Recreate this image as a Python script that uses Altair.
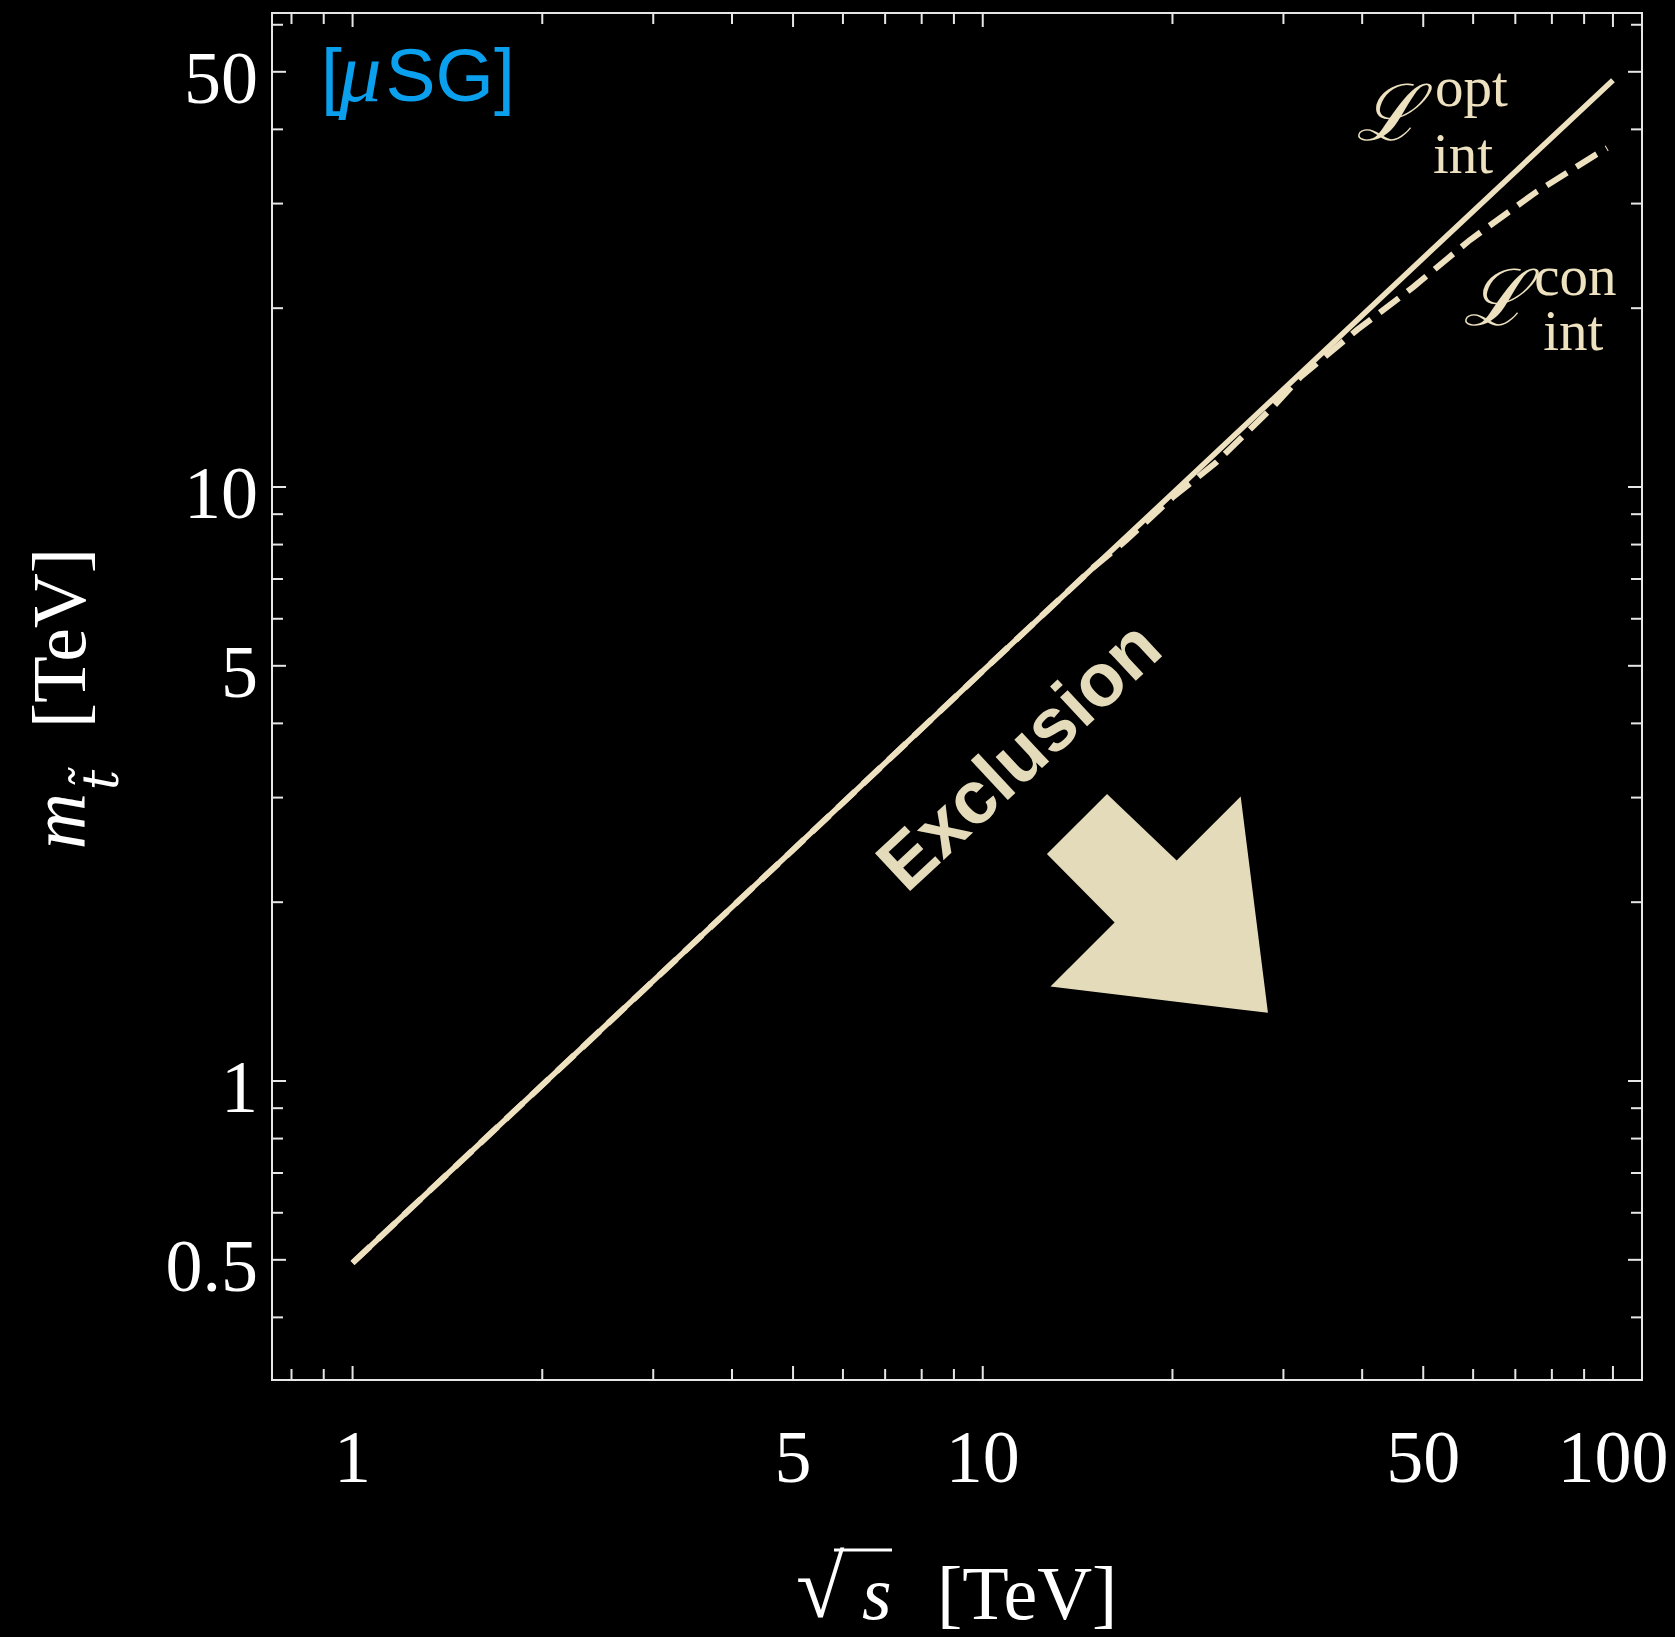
import altair as alt
import numpy as np
import pandas as pd

# ---------------- values ----------------
# L_int^opt (solid curve)
opt_x = [1, 2, 5, 10, 20, 50, 100]
opt_y = [0.494, 0.985, 2.45, 4.9, 9.75, 24.3, 48.4]

# L_int^con (dashed curve)
con_x = [1, 5, 10, 15, 16.9, 20, 23.4, 28.8, 31.9, 39.3, 48.2, 59.3, 75.3, 93.7, 97.9]
con_y = [0.494, 2.45, 4.9, 7.33, 8.14, 9.6, 10.97, 13.6, 15.3, 18.4, 21.7, 26.05, 31.3, 36.2, 37.2]

# axes
X_DOMAIN = [0.745, 111.2]
Y_DOMAIN = [0.3138, 62.8]
x_tick_labels = [1, 5, 10, 50, 100]
x_minor = [0.8, 0.9, 2, 3, 4, 6, 7, 8, 9, 20, 30, 40, 60, 70, 80, 90]
y_tick_labels = [0.5, 1, 5, 10, 50]
y_minor = [0.4, 0.6, 0.7, 0.8, 0.9, 2, 3, 4, 6, 7, 8, 9, 20, 30, 40, 60]

# "Exclusion" arrow outline (data coordinates): shaft quad and head triangle
arrow_shaft_x = [12.69, 15.75, 20.27, 16.22]
arrow_shaft_y = [2.411, 3.030, 2.346, 1.853]
arrow_head_x = [25.61, 28.26, 12.88]
arrow_head_y = [2.995, 1.307, 1.445]

# annotations (data coordinates)
excl_text = ["Exclusion"]
excl_x = [12.15]
excl_y = [3.29]

L_text = ["\u2112", "\u2112"]
L_x = [44.1, 65.2]
L_y = [38.4, 18.74]
sup_text = ["opt", "con"]
sup_x = [52.2, 75.0]
sup_y = [43.8, 21.05]
sub_text = ["int", "int"]
sub_x = [51.8, 77.5]
sub_y = [33.8, 17.0]

tag_parts = ["[", "\u03bc", "SG]"]
tag_x = [0.891, 0.950, 1.128]
tag_y = [44.66, 44.66, 44.66]

# ---------------- styling ----------------
W, H = 1370, 1367
FRAME = "#e6e6e6"
CREAM = "#ede1bf"
ARROW = "#e4dbba"
BLUE = "#0aa0ee"
SERIF = "Liberation Serif"
SANS = "Liberation Sans"

xscale = alt.Scale(type="log", domain=X_DOMAIN, nice=False)
yscale = alt.Scale(type="log", domain=Y_DOMAIN, nice=False)


def band(xs, ys):
    """Turn a convex polygon into top/bottom rows for an area mark (log space)."""
    lx = np.log10(xs)
    ly = np.log10(ys)
    n = len(xs)
    rows = []
    for xv in sorted(lx):
        hits = []
        for i in range(n):
            x0, y0 = lx[i], ly[i]
            x1, y1 = lx[(i + 1) % n], ly[(i + 1) % n]
            if min(x0, x1) - 1e-12 <= xv <= max(x0, x1) + 1e-12:
                if abs(x1 - x0) < 1e-12:
                    hits += [y0, y1]
                else:
                    t = (xv - x0) / (x1 - x0)
                    hits.append(y0 + t * (y1 - y0))
        rows.append({"x": 10 ** xv, "top": 10 ** max(hits), "bot": 10 ** min(hits)})
    return pd.DataFrame(rows)


def X(field):
    return alt.X(field, scale=xscale, axis=None)


def Y(field):
    return alt.Y(field, scale=yscale, axis=None)


layers = []

# dashed curve (under), solid curve (over)
layers.append(
    alt.Chart(pd.DataFrame({"x": con_x, "y": con_y}))
    .mark_line(color=CREAM, strokeWidth=6, strokeDash=[24, 11], clip=True)
    .encode(x=X("x:Q"), y=Y("y:Q"))
)
layers.append(
    alt.Chart(pd.DataFrame({"x": opt_x, "y": opt_y}))
    .mark_line(color=CREAM, strokeWidth=5.5, clip=True)
    .encode(x=X("x:Q"), y=Y("y:Q"))
)

# inward frame ticks on all four sides
for vals, ln in ((x_tick_labels, 14), (x_minor, 11)):
    d = pd.DataFrame({"v": vals})
    layers.append(alt.Chart(d).mark_rule(color=FRAME, strokeWidth=2).encode(
        x=X("v:Q"), y=alt.value(H), y2=alt.value(H - ln)))
    layers.append(alt.Chart(d).mark_rule(color=FRAME, strokeWidth=2).encode(
        x=X("v:Q"), y=alt.value(0), y2=alt.value(ln)))
for vals, ln in ((y_tick_labels, 14), (y_minor, 11)):
    d = pd.DataFrame({"v": vals})
    layers.append(alt.Chart(d).mark_rule(color=FRAME, strokeWidth=2).encode(
        y=Y("v:Q"), x=alt.value(0), x2=alt.value(ln)))
    layers.append(alt.Chart(d).mark_rule(color=FRAME, strokeWidth=2).encode(
        y=Y("v:Q"), x=alt.value(W), x2=alt.value(W - ln)))

# tick labels, placed through the scales
xl = pd.DataFrame({"v": x_tick_labels, "t": [f"{v:g}" for v in x_tick_labels]})
layers.append(alt.Chart(xl).mark_text(font=SERIF, fontSize=74, color="#ffffff",
                                      align="center", baseline="alphabetic")
              .encode(x=X("v:Q"), y=alt.value(H + 102), text="t:N"))
yl = pd.DataFrame({"v": y_tick_labels, "t": [f"{v:g}" for v in y_tick_labels]})
layers.append(alt.Chart(yl).mark_text(font=SERIF, fontSize=74, color="#ffffff",
                                      align="right", baseline="alphabetic", dy=31)
              .encode(y=Y("v:Q"), x=alt.value(-14), text="t:N"))

# arrow
for xs, ys in ((arrow_shaft_x, arrow_shaft_y), (arrow_head_x, arrow_head_y)):
    layers.append(
        alt.Chart(band(xs, ys))
        .mark_area(color=ARROW, stroke=ARROW, strokeWidth=1.5, interpolate="linear")
        .encode(x=X("x:Q"), y=Y("top:Q"), y2="bot:Q")
    )


def dtext(texts, xs, ys, **kw):
    d = pd.DataFrame({"t": texts, "x": xs, "y": ys})
    return alt.Chart(d).mark_text(**kw).encode(x=X("x:Q"), y=Y("y:Q"), text="t:N")


layers.append(dtext(excl_text, excl_x, excl_y, font=SANS, fontWeight="bold",
                    fontSize=75, color=ARROW, angle=317, align="center",
                    baseline="alphabetic"))
layers.append(dtext(L_text, L_x, L_y, font="DejaVu Serif", fontStyle="italic",
                    fontSize=78, color=CREAM, align="center", baseline="alphabetic"))
layers.append(dtext(sup_text, sup_x, sup_y, font=SERIF, fontSize=57, color=CREAM,
                    align="left", baseline="alphabetic"))
layers.append(dtext(sub_text, sub_x, sub_y, font=SERIF, fontSize=57, color=CREAM,
                    align="left", baseline="alphabetic"))
layers.append(dtext([tag_parts[0]], [tag_x[0]], [tag_y[0]], font=SANS, fontSize=75,
                    color=BLUE, align="left", baseline="alphabetic"))
layers.append(dtext([tag_parts[1]], [tag_x[1]], [tag_y[1]], font=SERIF,
                    fontStyle="italic", fontSize=86, color=BLUE, align="left",
                    baseline="alphabetic"))
layers.append(dtext([tag_parts[2]], [tag_x[2]], [tag_y[2]], font=SANS, fontSize=75,
                    color=BLUE, align="left", baseline="alphabetic"))


# axis titles (typeset in pieces)
def ptext(txt, x, y, **kw):
    return alt.Chart(pd.DataFrame({"t": [txt]})).mark_text(**kw).encode(
        x=alt.value(x), y=alt.value(y), text="t:N")


layers.append(ptext("\u221a", 524, 1604, font=SERIF, fontSize=88, color="#ffffff",
                    align="left", baseline="alphabetic"))
layers.append(alt.Chart(pd.DataFrame({"a": [0]})).mark_rule(color="#ffffff", strokeWidth=3)
              .encode(x=alt.value(562), x2=alt.value(620), y=alt.value(1537)))
layers.append(ptext("s", 590, 1606, font=SERIF, fontStyle="italic", fontSize=76,
                    color="#ffffff", align="left", baseline="alphabetic"))
layers.append(ptext("[TeV]", 665, 1606, font=SERIF, fontSize=76, color="#ffffff",
                    align="left", baseline="alphabetic"))

layers.append(ptext("[TeV]", -187, 625, font=SERIF, fontSize=76, color="#ffffff",
                    align="center", baseline="alphabetic", angle=270))
layers.append(ptext("m", -187, 808, font=SERIF, fontStyle="italic", fontSize=78,
                    color="#ffffff", align="center", baseline="alphabetic", angle=270))
layers.append(ptext("t\u0303", -154, 767, font="DejaVu Serif", fontStyle="italic",
                    fontSize=50, color="#ffffff", align="center",
                    baseline="alphabetic", angle=270))

chart = (
    alt.layer(*layers)
    .properties(width=W, height=H,
                autosize=alt.AutoSizeParams(type="none"),
                padding={"left": 272, "top": 13, "right": 33, "bottom": 257})
    .configure(background="#000000")
    .configure_view(stroke=FRAME, strokeWidth=2)
)

chart.save("out.html", embed_options={"renderer": "svg", "actions": False})
